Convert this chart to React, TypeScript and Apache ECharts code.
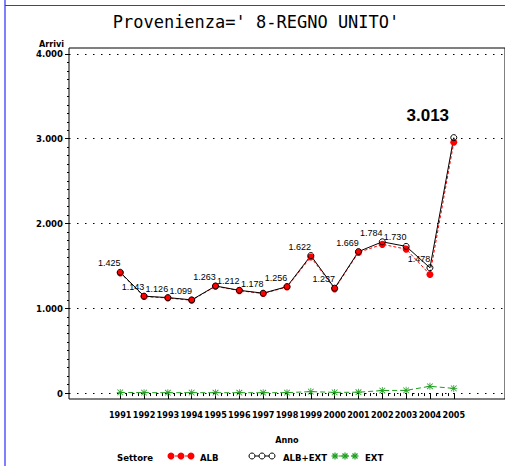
import React, { useEffect, useRef } from "react";
import * as echarts from "echarts";

const years = [1991, 1992, 1993, 1994, 1995, 1996, 1997, 1998, 1999, 2000, 2001, 2002, 2003, 2004, 2005];
const albExt = [1425, 1143, 1126, 1099, 1263, 1212, 1178, 1256, 1622, 1237, 1669, 1784, 1730, 1478, 3013];
const alb = [1417, 1138, 1122, 1094, 1259, 1208, 1174, 1251, 1605, 1229, 1659, 1754, 1698, 1398, 2958];
const ext = [8, 5, 4, 5, 4, 4, 4, 5, 17, 8, 10, 30, 32, 80, 55];
const yTicks = [0, 1000, 2000, 3000, 4000];
const titleText = "Provenienza=' 8-REGNO UNITO'";
const seriesNames = ["ALB", "ALB+EXT", "EXT"];

const FONT_C = "'DejaVu Sans Condensed', 'Liberation Sans Narrow', sans-serif";
const FONT_L = "'Liberation Sans', Arial, sans-serif";
const RED = "#ff0000";
const GREEN = "#1e9e1e";
const STAR = "path://M4,0H5V9H4Z M0,4H9V5H0Z M1.2,0.5L8.5,7.8L7.8,8.5L0.5,1.2Z M7.8,0.5L8.5,1.2L1.2,8.5L0.5,7.8Z";

const fmt = (v: number) =>
  v >= 1000 ? Math.floor(v / 1000) + "." + String(v % 1000).padStart(3, "0") : String(v);

const axisText = { color: "#000", fontSize: 9, fontWeight: "bold" as const, fontFamily: FONT_C };

function starLines(cx: number, cy: number, color: string) {
  const r = 3.5;
  const d = 2.5;
  const segs = [
    [cx - r, cy, cx + r, cy],
    [cx, cy - r, cx, cy + r],
    [cx - d, cy - d, cx + d, cy + d],
    [cx - d, cy + d, cx + d, cy - d],
  ];
  return segs.map((s) => ({
    type: "line",
    shape: { x1: s[0], y1: s[1], x2: s[2], y2: s[3] },
    style: { stroke: color, lineWidth: 1.2 },
  }));
}

export default function App() {
  const ref = useRef<HTMLDivElement>(null);
  useEffect(() => {
    if (!ref.current) return;
    const chart = echarts.init(ref.current, null, { renderer: "svg" });
    const minorX = years.slice(0, -1).flatMap((y) => [y + 0.25, y + 0.5, y + 0.75]);
    const minorY: number[] = [];
    for (let v = 0; v <= 4000; v += 100) minorY.push(v);

    const labelled = albExt.map((v, i) => {
      const last = i === albExt.length - 1;
      return {
        value: [years[i], v],
        label: last
          ? {
              show: true,
              position: "inside",
              offset: [-26, -22],
              formatter: () => fmt(v),
              fontSize: 17,
              fontWeight: "bold",
              fontFamily: FONT_L,
              color: "#000",
            }
          : {
              show: true,
              position: "inside",
              offset: [-11, -9],
              formatter: () => fmt(v),
              fontSize: 9,
              fontFamily: FONT_L,
              color: "#000",
            },
      };
    });

    const legendY = 456;
    const legendText = (text: string, x: number) => ({
      type: "text",
      x,
      y: legendY + 1,
      style: { text, fontSize: 9.5, fontWeight: "bold", fontFamily: FONT_C, fill: "#000", align: "left", verticalAlign: "middle" },
    });
    const graphic: any[] = [
      { type: "line", shape: { x1: 5, y1: 0, x2: 5, y2: 466 }, style: { stroke: "#8080ff", lineWidth: 2 } },
      { type: "line", shape: { x1: 5, y1: 5.5, x2: 505, y2: 5.5 }, style: { stroke: "#3a3ad0", lineWidth: 1 } },
      {
        type: "text",
        x: 256,
        y: 22,
        style: { text: titleText, fontSize: 17, fontFamily: "'DejaVu Sans Mono', monospace", fill: "#000", align: "center", verticalAlign: "middle" },
      },
      {
        type: "text",
        x: 64,
        y: 44,
        style: { text: "Arrivi", fontSize: 9, fontWeight: "bold", fontFamily: FONT_C, fill: "#000", align: "right", verticalAlign: "middle" },
      },
      legendText("Settore", 117),
      { type: "line", shape: { x1: 170, y1: legendY, x2: 191, y2: legendY }, style: { stroke: RED, lineWidth: 1, lineDash: [3, 2] } },
      ...[171, 181, 191].map((cx) => ({ type: "circle", shape: { cx, cy: legendY, r: 3.5 }, style: { fill: RED } })),
      legendText(seriesNames[0], 200),
      { type: "line", shape: { x1: 249, y1: legendY, x2: 275, y2: legendY }, style: { stroke: "#000", lineWidth: 1 } },
      ...[252, 262, 272].map((cx) => ({ type: "circle", shape: { cx, cy: legendY, r: 3 }, style: { fill: "#fff", stroke: "#000", lineWidth: 1 } })),
      legendText(seriesNames[1], 283),
      { type: "line", shape: { x1: 333, y1: legendY, x2: 357, y2: legendY }, style: { stroke: GREEN, lineWidth: 1, lineDash: [4, 2] } },
      ...[335, 345, 355].flatMap((cx) => starLines(cx, legendY, GREEN)),
      legendText(seriesNames[2], 365),
    ];

    chart.setOption({
      animation: false,
      backgroundColor: "#fff",
      grid: { left: 69, right: -6, top: 48, bottom: 67, show: true, borderColor: "#000", borderWidth: 1, backgroundColor: "transparent" },
      xAxis: [
        {
          type: "value",
          position: "bottom",
          min: 1988.85,
          max: 2007.15,
          axisLine: { show: false },
          splitLine: { show: false },
          axisTick: { show: true, interval: 0, customValues: years, length: 6, lineStyle: { color: "#000" } },
          axisLabel: {
            ...axisText,
            interval: 0,
            customValues: years,
            margin: 11,
            showMinLabel: true,
            showMaxLabel: true,
            hideOverlap: false,
            formatter: (v: number) => String(v),
          },
          name: "Anno",
          nameLocation: "middle",
          nameGap: 36,
          nameTextStyle: { ...axisText },
        },
        {
          type: "value",
          position: "bottom",
          min: 1988.85,
          max: 2007.15,
          axisLine: { show: false },
          splitLine: { show: false },
          axisTick: { show: true, interval: 0, customValues: minorX, length: 3, lineStyle: { color: "#000" } },
          axisLabel: { show: false },
        },
      ],
      yAxis: [
        {
          type: "value",
          position: "left",
          min: -70,
          max: 4070,
          axisLine: { show: false },
          splitLine: { show: false },
          axisTick: { show: true, interval: 0, customValues: yTicks, length: 4, lineStyle: { color: "#000" } },
          axisLabel: {
            ...axisText,
            fontSize: 9.5,
            interval: 0,
            customValues: yTicks,
            margin: 6,
            showMinLabel: true,
            showMaxLabel: true,
            formatter: (v: number) => fmt(v),
          },
        },
        {
          type: "value",
          position: "left",
          min: -70,
          max: 4070,
          axisLine: { show: false },
          splitLine: { show: false },
          axisTick: { show: true, interval: 0, customValues: minorY, length: 2, lineStyle: { color: "#000" } },
          axisLabel: { show: false },
        },
      ],
      graphic,
      series: [
        {
          name: seriesNames[0],
          type: "line",
          xAxisIndex: 0,
          yAxisIndex: 0,
          data: alb.map((v, i) => [years[i], v]),
          symbol: "circle",
          symbolSize: 7,
          itemStyle: { color: RED },
          lineStyle: { color: RED, width: 1, type: [3, 2] },
          markLine: {
            silent: true,
            symbol: ["none", "none"],
            label: { show: false },
            lineStyle: { color: "#000", width: 1, type: [1.5, 6.5] },
            data: yTicks.map((v) => ({ yAxis: v })),
          },
        },
        {
          name: seriesNames[1],
          type: "line",
          xAxisIndex: 0,
          yAxisIndex: 0,
          data: labelled,
          symbol: "circle",
          symbolSize: 6,
          itemStyle: { color: "rgba(0,0,0,0)", borderColor: "#000", borderWidth: 1 },
          lineStyle: { color: "#000", width: 1 },
        },
        {
          name: seriesNames[2],
          type: "line",
          xAxisIndex: 0,
          yAxisIndex: 0,
          data: ext.map((v, i) => [years[i], v]),
          symbol: STAR,
          symbolSize: 7,
          itemStyle: { color: GREEN },
          lineStyle: { color: GREEN, width: 1, type: [5, 3] },
        },
      ],
    });
    return () => chart.dispose();
  }, []);
  return <div ref={ref} style={{ position: "absolute", left: 0, top: 0, width: 505, height: 466 }} />;
}
